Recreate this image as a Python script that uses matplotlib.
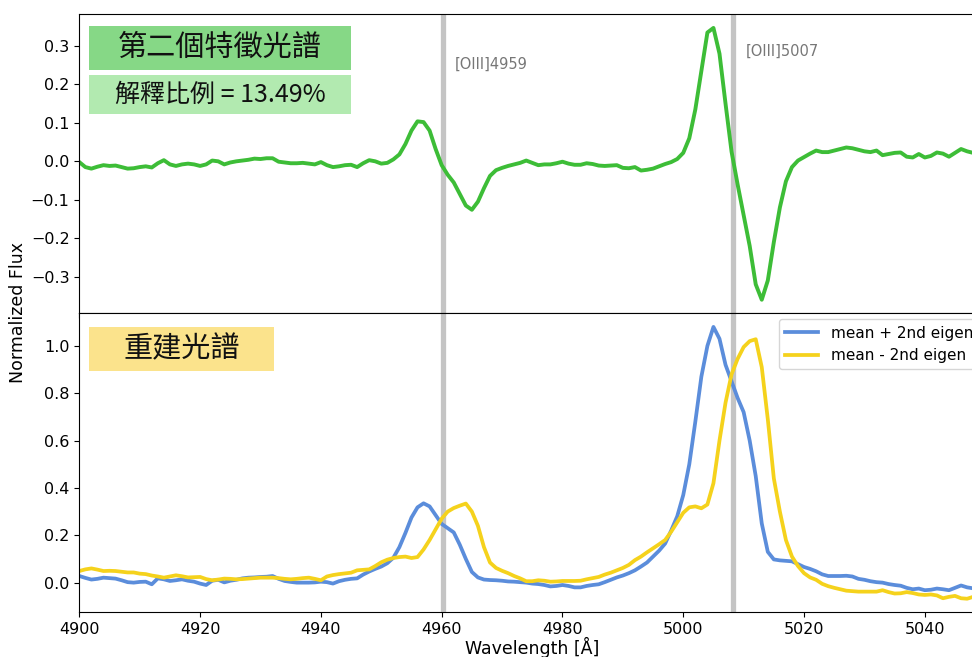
import numpy as np
import matplotlib.pyplot as plt
from matplotlib.patches import Rectangle

# 波長 (Å), 1 Å ごと
wave = np.arange(4900, 5051)

# 第二固有スペクトル
eigen2 = [
    -0.002, -0.015, -0.019, -0.014, -0.010, -0.012, -0.011, -0.015, -0.019, -0.018,
    -0.015, -0.013, -0.016, -0.005, 0.003, -0.008, -0.012, -0.008, -0.006, -0.008,
    -0.012, -0.008, 0.002, 0.000, -0.008, -0.003, 0.000, 0.002, 0.004, 0.007,
    0.006, 0.008, 0.008, -0.001, -0.003, -0.005, -0.005, -0.004, -0.006, -0.008,
    -0.002, -0.010, -0.015, -0.013, -0.010, -0.009, -0.015, -0.005, 0.003, 0.000,
    -0.006, -0.004, 0.005, 0.018, 0.045, 0.080, 0.104, 0.102, 0.080, 0.032,
    -0.010, -0.035, -0.055, -0.085, -0.115, -0.126, -0.105, -0.070, -0.038, -0.023,
    -0.017, -0.012, -0.008, -0.004, 0.002, -0.004, -0.010, -0.008, -0.008, -0.005,
    -0.001, -0.006, -0.009, -0.009, -0.005, -0.007, -0.011, -0.012, -0.011, -0.010,
    -0.017, -0.018, -0.015, -0.024, -0.022, -0.019, -0.013, -0.007, -0.002, 0.006,
    0.022, 0.060, 0.135, 0.235, 0.335, 0.347, 0.280, 0.150, 0.025, -0.060,
    -0.140, -0.220, -0.320, -0.360, -0.310, -0.210, -0.120, -0.052, -0.015, 0.002,
    0.011, 0.020, 0.028, 0.024, 0.024, 0.028, 0.032, 0.036, 0.034, 0.030,
    0.026, 0.024, 0.028, 0.016, 0.019, 0.022, 0.023, 0.012, 0.010, 0.019,
    0.010, 0.014, 0.023, 0.020, 0.012, 0.022, 0.032, 0.026, 0.022, 0.023,
    0.025,
]

# 平均 + 第二固有
recon_plus = [
    0.028, 0.020, 0.013, 0.016, 0.021, 0.019, 0.017, 0.010, 0.002, 0.000,
    0.003, 0.004, -0.007, 0.018, 0.014, 0.007, 0.010, 0.014, 0.008, 0.004,
    -0.004, -0.010, 0.008, 0.012, 0.001, 0.008, 0.012, 0.018, 0.021, 0.022,
    0.024, 0.025, 0.028, 0.016, 0.007, 0.003, 0.000, 0.000, 0.000, 0.001,
    0.004, 0.002, -0.004, 0.006, 0.012, 0.016, 0.018, 0.034, 0.047, 0.058,
    0.068, 0.082, 0.105, 0.150, 0.210, 0.275, 0.318, 0.335, 0.322, 0.285,
    0.248, 0.230, 0.212, 0.160, 0.100, 0.045, 0.022, 0.013, 0.011, 0.010,
    0.008, 0.005, 0.004, 0.002, 0.000, -0.004, -0.006, -0.010, -0.016, -0.014,
    -0.010, -0.014, -0.020, -0.020, -0.014, -0.010, -0.007, 0.002, 0.012, 0.022,
    0.030, 0.040, 0.052, 0.068, 0.085, 0.110, 0.135, 0.165, 0.220, 0.280,
    0.370, 0.500, 0.680, 0.870, 1.000, 1.080, 1.030, 0.920, 0.850, 0.780,
    0.720, 0.600, 0.450, 0.250, 0.130, 0.098, 0.094, 0.092, 0.090, 0.078,
    0.066, 0.058, 0.048, 0.035, 0.028, 0.028, 0.028, 0.029, 0.026, 0.016,
    0.012, 0.006, 0.002, 0.000, -0.006, -0.010, -0.013, -0.022, -0.028, -0.025,
    -0.032, -0.030, -0.025, -0.028, -0.032, -0.022, -0.012, -0.020, -0.024, -0.022,
    -0.024,
]

# 平均 - 第二固有
recon_minus = [
    0.049, 0.056, 0.060, 0.055, 0.049, 0.050, 0.049, 0.046, 0.043, 0.043,
    0.038, 0.036, 0.030, 0.026, 0.021, 0.026, 0.031, 0.027, 0.022, 0.023,
    0.024, 0.015, 0.010, 0.013, 0.017, 0.016, 0.014, 0.015, 0.017, 0.019,
    0.021, 0.021, 0.021, 0.019, 0.016, 0.014, 0.016, 0.019, 0.021, 0.016,
    0.010, 0.026, 0.032, 0.036, 0.039, 0.042, 0.052, 0.054, 0.056, 0.070,
    0.086, 0.097, 0.104, 0.108, 0.110, 0.104, 0.108, 0.140, 0.180, 0.225,
    0.270, 0.300, 0.315, 0.325, 0.334, 0.300, 0.240, 0.150, 0.085, 0.062,
    0.050, 0.040, 0.028, 0.018, 0.006, 0.006, 0.010, 0.008, 0.004, 0.005,
    0.007, 0.007, 0.007, 0.008, 0.014, 0.019, 0.024, 0.034, 0.042, 0.052,
    0.062, 0.075, 0.095, 0.110, 0.128, 0.145, 0.162, 0.180, 0.215, 0.255,
    0.295, 0.318, 0.322, 0.314, 0.330, 0.420, 0.600, 0.760, 0.880, 0.945,
    0.995, 1.020, 1.028, 0.910, 0.690, 0.440, 0.300, 0.180, 0.110, 0.070,
    0.040, 0.022, 0.012, -0.005, -0.015, -0.022, -0.028, -0.034, -0.036, -0.038,
    -0.038, -0.038, -0.038, -0.032, -0.040, -0.046, -0.045, -0.040, -0.044, -0.050,
    -0.052, -0.050, -0.054, -0.066, -0.060, -0.056, -0.066, -0.068, -0.060, -0.062,
    -0.060,
]

# [OIII] 輝線 (真空波長)
lines = [4960.3, 5008.2]
line_names = ['[OIII]4959', '[OIII]5007']
name_pos = [(4962.2, 0.253), (5010.3, 0.285)]

fig = plt.figure(figsize=(9.72, 6.57), dpi=100)
ax1 = fig.add_axes([0.0816, 0.5231, 0.932, 0.4551])
ax2 = fig.add_axes([0.0816, 0.0680, 0.932, 0.4551], sharex=ax1)

ax1.plot(wave, eigen2, color='#3dbd37', lw=2.8)
for lw_, name, (tx, ty) in zip(lines, line_names, name_pos):
    ax1.axvline(lw_, color='#c4c4c4', lw=3.8, zorder=0)
    ax2.axvline(lw_, color='#c4c4c4', lw=3.8, zorder=0)
    ax1.text(tx, ty, name, color='#777777', fontsize=10.5, ha='left', va='center')

ax2.plot(wave, recon_plus, color='#5b8ddb', lw=2.7, label='mean + 2nd eigen')
ax2.plot(wave, recon_minus, color='#f5d21c', lw=2.7, label='mean - 2nd eigen')
ax2.legend(loc='upper right', fontsize=11, handlelength=2.2, borderaxespad=0.4)

ax1.set_xlim(4900, 5050)
ax1.tick_params(labelbottom=False, labelsize=11.5)
ax2.tick_params(labelsize=11.5)
ax2.set_xticks([4900, 4920, 4940, 4960, 4980, 5000, 5020, 5040])
ax1.set_yticks([-0.3, -0.2, -0.1, 0.0, 0.1, 0.2, 0.3])
ax2.set_yticks([0.0, 0.2, 0.4, 0.6, 0.8, 1.0])
ax2.set_xlabel('Wavelength [Å]', fontsize=12.5, labelpad=0)
fig.text(0.019, 0.5236, 'Normalized Flux', rotation=90, ha='center', va='center', fontsize=12.5)

# 見出しボックス
cjk = ['Noto Sans CJK TC', 'DejaVu Sans']
boxes = [
    (0.0916, 0.8935, 0.2695, 0.0669, '#86d886', '第二個特徵光譜', 21),
    (0.0916, 0.8265, 0.2695, 0.0593, '#b2eab0', '解釋比例 = 13.49%', 18),
    (0.0916, 0.4353, 0.1903, 0.0670, '#fbe38c', '重建光譜', 21),
]
for x0, y0, w, h, c, s, fs in boxes:
    fig.patches.append(Rectangle((x0, y0), w, h, transform=fig.transFigure,
                                 facecolor=c, edgecolor='none', zorder=5))
    fig.text(x0 + w / 2, y0 + h / 2, s, ha='center', va='center', fontsize=fs,
             family=cjk, color='#111111', zorder=6)

fig.savefig('out.png', dpi=100)
